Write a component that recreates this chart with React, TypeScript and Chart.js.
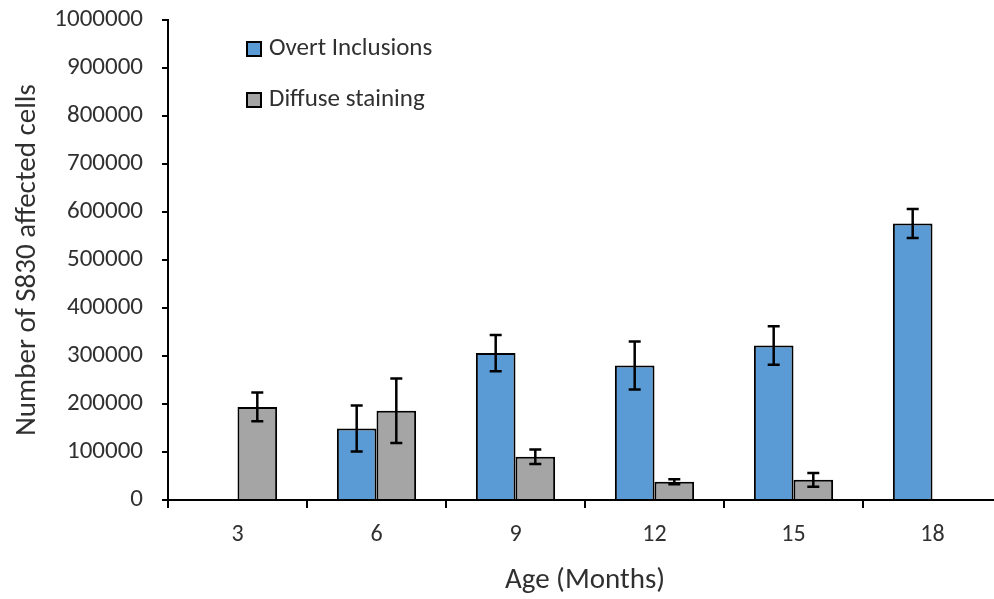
import React, { useEffect, useRef } from "react";
import { Chart, registerables } from "chart.js";

Chart.register(...registerables);

// Age groups (months)
const ages = ["3", "6", "9", "12", "15", "18"];

// Number of S830 affected cells per age group
const overtInclusions = [null, 149000, 306000, 280000, 322000, 576000];
const overtErrors = [null, 48000, 38000, 50000, 40000, 30000];

const diffuseStaining = [194000, 186000, 90000, 38000, 42000, null];
const diffuseErrors = [30000, 67000, 15000, 5000, 14500, null];

const seriesNames = ["Overt Inclusions", "Diffuse staining"];
const seriesColors = ["#5B9BD5", "#A5A5A5"];

const yTitle = "Number of S830 affected cells";
const xTitle = "Age (Months)";

const FONT = "Carlito, Calibri, Lato, sans-serif";
const TEXT = "#303030";

const errorBarPlugin = {
  id: "errorBars",
  afterDatasetsDraw(chart: any) {
    const { ctx } = chart;
    const yScale = chart.scales.y;
    const errs = [overtErrors, diffuseErrors];
    ctx.save();
    ctx.strokeStyle = "#000";
    ctx.lineWidth = 2.5;
    chart.data.datasets.forEach((ds: any, di: number) => {
      const meta = chart.getDatasetMeta(di);
      meta.data.forEach((bar: any, i: number) => {
        const v = ds.data[i];
        const e = errs[di][i];
        if (v == null || e == null) return;
        const x = bar.x;
        const yTop = yScale.getPixelForValue(v + e);
        const yBot = yScale.getPixelForValue(v - e);
        const cap = 6;
        ctx.beginPath();
        ctx.moveTo(x, yTop);
        ctx.lineTo(x, yBot);
        ctx.moveTo(x - cap, yTop);
        ctx.lineTo(x + cap, yTop);
        ctx.moveTo(x - cap, yBot);
        ctx.lineTo(x + cap, yBot);
        ctx.stroke();
      });
    });
    ctx.restore();
  },
};

const labelsPlugin = {
  id: "chartLabels",
  afterDraw(chart: any) {
    const { ctx, chartArea } = chart;
    ctx.save();
    // legend
    ctx.font = `25px ${FONT}`;
    ctx.textBaseline = "middle";
    ctx.textAlign = "left";
    const lx = chartArea.left + 79;
    const rows = [chartArea.top + 29, chartArea.top + 80];
    seriesNames.forEach((name, i) => {
      const y = rows[i];
      ctx.fillStyle = seriesColors[i];
      ctx.fillRect(lx, y - 7, 14, 14);
      ctx.strokeStyle = "#000";
      ctx.lineWidth = 2;
      ctx.strokeRect(lx, y - 7, 14, 14);
      ctx.fillStyle = TEXT;
      ctx.fillText(name, lx + 22, y);
    });
    // axis titles
    ctx.font = `29px ${FONT}`;
    ctx.textAlign = "center";
    ctx.textBaseline = "alphabetic";
    ctx.fillStyle = TEXT;
    ctx.fillText(xTitle, (chartArea.left + chartArea.right) / 2, 588);
    ctx.translate(35, (chartArea.top + chartArea.bottom) / 2);
    ctx.rotate(-Math.PI / 2);
    ctx.fillText(yTitle, 0, 0);
    ctx.restore();
  },
};

export default function App() {
  const ref = useRef<HTMLCanvasElement>(null);

  useEffect(() => {
    const canvas = ref.current;
    if (!canvas) return;
    const chart = new Chart(canvas, {
      type: "bar",
      data: {
        labels: ages,
        datasets: [
          {
            label: seriesNames[0],
            data: overtInclusions,
            backgroundColor: seriesColors[0],
            borderColor: "#000",
            borderWidth: 2,
          },
          {
            label: seriesNames[1],
            data: diffuseStaining,
            backgroundColor: seriesColors[1],
            borderColor: "#000",
            borderWidth: 2,
          },
        ],
      },
      options: {
        responsive: false,
        animation: false,
        devicePixelRatio: 1,
        layout: { padding: { left: 0, top: 20, right: 8, bottom: 0 } },
        datasets: { bar: { categoryPercentage: 0.57, barPercentage: 1 } },
        plugins: {
          legend: { display: false },
          tooltip: { enabled: false },
        },
        scales: {
          x: {
            grid: {
              offset: true,
              drawOnChartArea: false,
              drawTicks: true,
              tickLength: 8,
              tickColor: "#000",
              lineWidth: 2,
            },
            border: { display: true, color: "#000", width: 2 },
            ticks: {
              color: TEXT,
              font: { family: FONT, size: 24 },
              padding: 13,
              maxRotation: 0,
            },
            afterFit(scale: any) {
              scale.height = 99;
              scale.paddingLeft = 0;
              scale.paddingRight = 0;
            },
          },
          y: {
            min: 0,
            max: 1000000,
            grid: {
              drawOnChartArea: false,
              drawTicks: true,
              tickLength: 6,
              tickColor: "#000",
              lineWidth: 2,
            },
            border: { display: true, color: "#000", width: 2 },
            ticks: {
              stepSize: 100000,
              color: TEXT,
              font: { family: FONT, size: 25 },
              padding: 19,
              callback: (v: any) => String(v),
            },
            afterFit(scale: any) {
              scale.width = 168;
              scale.paddingTop = 0;
              scale.paddingBottom = 0;
            },
          },
        },
      },
      plugins: [errorBarPlugin, labelsPlugin],
    });
    return () => chart.destroy();
  }, []);

  return (
    <div
      style={{
        position: "absolute",
        left: 0,
        top: 0,
        width: 994,
        height: 599,
        overflow: "hidden",
        background: "#fff",
      }}
    >
      <canvas
        ref={ref}
        width={1010}
        height={599}
        style={{ width: 1010, height: 599, display: "block" }}
      />
    </div>
  );
}
